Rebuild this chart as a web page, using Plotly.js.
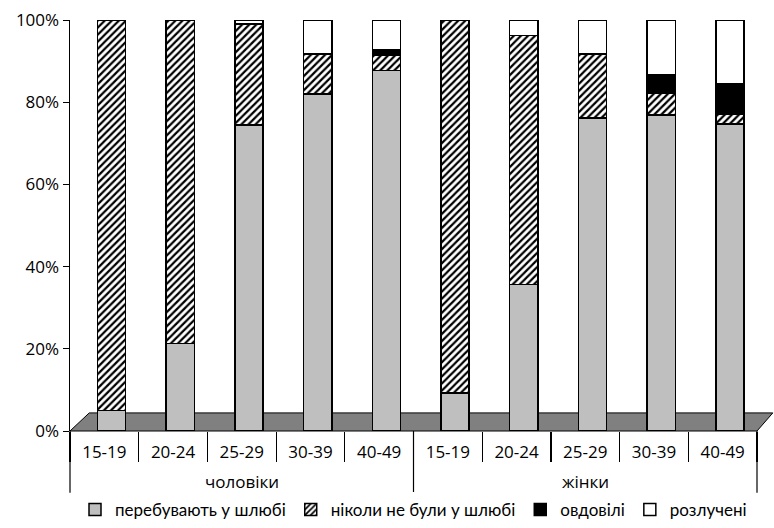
<!DOCTYPE html>
<html>
<head>
<meta charset="utf-8">
<script src="https://cdn.plot.ly/plotly-3.0.1.min.js"></script>
<style>html,body{margin:0;padding:0;background:#fff;}#chart{width:774px;height:528px;}</style>
</head>
<body>
<div id="chart"></div>
<script>
const groups = ["чоловіки","чоловіки","чоловіки","чоловіки","чоловіки","жінки","жінки","жінки","жінки","жінки"];
const ages = ["15-19","20-24","25-29","30-39","40-49","15-19","20-24","25-29","30-39","40-49"];
const groupLabels = ["чоловіки","жінки"];
const married  = [5.0, 21.3, 74.5, 82.0, 87.7, 9.2, 35.7, 76.1, 76.9, 74.7];
const never    = [95.0, 78.7, 24.5, 9.7, 3.8, 90.8, 60.5, 15.6, 5.3, 2.4];
const widowed  = [0, 0, 0, 0, 1.2, 0, 0, 0, 4.6, 7.3];
const divorced = [0, 0, 1.0, 8.3, 7.3, 0, 3.8, 8.3, 13.2, 15.6];
const names = ["перебувають у шлюбі","ніколи не були у шлюбі","овдовілі","розлучені"];
const yTickVals = [0,20,40,60,80,100];
const yTickText = ["0%","20%","40%","60%","80%","100%"];

const cats = groups.map((g,i)=>g+" "+ages[i]);
const line = {color:"#000", width:1.5};
function tr(y, name, fill, pattern){
  const m = {color: fill, line: line};
  if (pattern) m.pattern = pattern;
  return {type:"bar", x:cats, y:y, name:name, marker:m, width:0.41, offset:-0.1, hoverinfo:"skip"};
}
const data = [
  tr(married, names[0], "#BFBFBF"),
  tr(never, names[1], "#fff", {shape:"/", fgcolor:"#000", bgcolor:"#fff", size:5, solidity:0.45}),
  tr(widowed, names[2], "#000"),
  tr(divorced, names[3], "#fff")
];
const fam = "Open Sans, DejaVu Sans, sans-serif";
const font = {family:fam, size:17, color:"#000"};
const nG = groupLabels.length;
const annotations = groupLabels.map((g,i)=>({text:g, xref:"paper", yref:"paper", x:(i+0.5)/nG, y:-0.124, yanchor:"middle", xanchor:"center", showarrow:false, font:{family:fam,size:17,color:"#000"}}));
const shapes = [
  {type:"path", xref:"paper", yref:"paper", layer:"below",
   path:"M 0 0 L 0.028 0.044 L 1.023 0.044 L 1.0 0 Z", fillcolor:"#808080", line:{color:"#000", width:1}}
];
for (let i=0;i<=nG;i++){
  shapes.push({type:"line", xref:"paper", yref:"paper", x0:i/nG, x1:i/nG, y0:0, y1:-0.15, line:{color:"#000", width:1.2}});
}
const layout = {
  width:774, height:528,
  margin:{l:70, r:17, t:20, b:97, autoexpand:false},
  barmode:"stack",
  paper_bgcolor:"#fff", plot_bgcolor:"rgba(0,0,0,0)",
  font:font,
  showlegend:true,
  legend:{orientation:"h", traceorder:"normal", x:0.5, xanchor:"center", y:-0.148, yanchor:"top",
          font:{family:"Lato, Open Sans, sans-serif",size:17,color:"#000"}, itemwidth:30},
  xaxis:{type:"category", tickmode:"array", tickvals:cats, ticktext:ages, showline:false, ticks:"outside", tickson:"boundaries",
         ticklen:30, tickcolor:"#000", tickwidth:1.2, ticklabelstandoff:9,
         showgrid:false, zeroline:false, tickfont:{family:fam,size:17,color:"#000"}},
  yaxis:{range:[0,100], tickmode:"array", tickvals:yTickVals, ticktext:yTickText, ticks:"outside", ticklen:6, tickcolor:"#000",
         showline:true, linecolor:"#000", linewidth:1.5, showgrid:false, zeroline:false, tickfont:{family:fam,size:17,color:"#000"}},
  annotations:annotations,
  shapes:shapes
};
Plotly.newPlot("chart", data, layout, {displayModeBar:false, staticPlot:true});
</script>
</body>
</html>
